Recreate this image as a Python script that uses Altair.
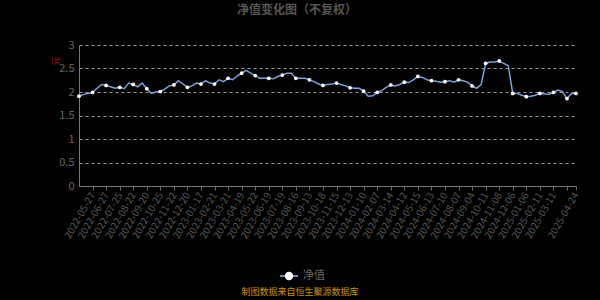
import altair as alt
import pandas as pd

FONT = "Noto Sans CJK SC"

dates_2022 = ["2022-04-26", "2022-05-09", "2022-05-18", "2022-05-27", "2022-06-08", "2022-06-17",
              "2022-06-27", "2022-07-06", "2022-07-15", "2022-07-25", "2022-08-03", "2022-08-12",
              "2022-08-22", "2022-08-31", "2022-09-09", "2022-09-20", "2022-09-29", "2022-10-14",
              "2022-10-25", "2022-11-03", "2022-11-14", "2022-11-22", "2022-12-01", "2022-12-12",
              "2022-12-20", "2022-12-29"]
nav_2022 = [1.91, 1.95, 1.97, 1.99, 2.08, 2.16, 2.14, 2.11, 2.08, 2.10, 2.07, 2.19, 2.16,
            2.11, 2.19, 2.07, 1.97, 2.00, 2.01, 2.06, 2.13, 2.15, 2.24, 2.17, 2.10, 2.13]

dates_2023 = ["2023-01-09", "2023-01-17", "2023-02-03", "2023-02-13", "2023-02-21", "2023-03-02",
              "2023-03-13", "2023-03-21", "2023-03-30", "2023-04-11", "2023-04-19", "2023-05-04",
              "2023-05-12", "2023-05-22", "2023-05-31", "2023-06-09", "2023-06-19", "2023-06-29",
              "2023-07-10", "2023-07-19", "2023-07-28", "2023-08-07", "2023-08-16", "2023-08-25",
              "2023-09-05", "2023-09-13", "2023-09-22", "2023-10-10", "2023-10-18", "2023-10-27",
              "2023-11-07", "2023-11-15", "2023-11-24", "2023-12-05", "2023-12-13", "2023-12-22"]
nav_2023 = [2.19, 2.17, 2.24, 2.19, 2.17, 2.26, 2.22, 2.29, 2.26, 2.34, 2.40, 2.46, 2.40,
            2.35, 2.29, 2.29, 2.29, 2.28, 2.33, 2.36, 2.40, 2.40, 2.29, 2.29, 2.29, 2.26,
            2.22, 2.17, 2.14, 2.16, 2.17, 2.19, 2.16, 2.13, 2.09, 2.08]

dates_2024 = ["2024-01-02", "2024-01-10", "2024-01-19", "2024-01-30", "2024-02-07", "2024-02-27",
              "2024-03-06", "2024-03-14", "2024-03-25", "2024-04-03", "2024-04-12", "2024-04-23",
              "2024-05-06", "2024-05-15", "2024-05-24", "2024-06-04", "2024-06-13", "2024-06-24",
              "2024-07-02", "2024-07-10", "2024-07-19", "2024-07-30", "2024-08-07", "2024-08-16",
              "2024-08-27", "2024-09-04", "2024-09-13", "2024-09-27", "2024-10-11", "2024-10-22",
              "2024-10-31", "2024-11-08", "2024-11-19", "2024-11-28", "2024-12-06", "2024-12-17",
              "2024-12-26"]
nav_2024 = [2.08, 2.02, 1.91, 1.92, 1.99, 2.03, 2.10, 2.15, 2.13, 2.16, 2.21, 2.20, 2.26,
            2.33, 2.31, 2.26, 2.24, 2.23, 2.21, 2.22, 2.24, 2.21, 2.26, 2.24, 2.21, 2.13,
            2.08, 2.16, 2.61, 2.64, 2.64, 2.66, 2.61, 2.56, 1.97, 1.97, 1.93]

dates_2025 = ["2025-01-06", "2025-01-15", "2025-01-24", "2025-02-11", "2025-02-20", "2025-03-03",
              "2025-03-11", "2025-03-20", "2025-03-31", "2025-04-09", "2025-04-17", "2025-04-24"]
nav_2025 = [1.90, 1.91, 1.93, 1.97, 1.96, 1.95, 1.99, 2.04, 2.01, 1.86, 1.97, 1.97]

tick_dates = ["2022-04-26", "2022-05-27", "2022-06-27", "2022-07-25", "2022-08-22", "2022-09-20",
              "2022-10-25", "2022-11-22", "2022-12-20", "2023-01-17", "2023-02-21", "2023-03-21",
              "2023-04-19", "2023-05-22", "2023-06-19", "2023-07-19", "2023-08-16", "2023-09-13",
              "2023-10-18", "2023-11-15", "2023-12-13", "2024-01-10", "2024-02-07", "2024-03-14",
              "2024-04-12", "2024-05-15", "2024-06-13", "2024-07-10", "2024-08-07", "2024-09-04",
              "2024-10-11", "2024-11-08", "2024-12-06", "2025-01-06", "2025-02-11", "2025-03-11",
              "2025-04-09", "2025-04-24"]
hidden_label = "2025-04-09"
y_ticks = [0, 0.5, 1, 1.5, 2, 2.5, 3]

title_text = "净值变化图（不复权）"
legend_text = "净值"
unit_text = "元"
source_text = "制图数据来自恒生聚源数据库"

dates = dates_2022 + dates_2023 + dates_2024 + dates_2025
navs = nav_2022 + nav_2023 + nav_2024 + nav_2025
assert len(dates) == len(navs)
df = pd.DataFrame({"date": dates, "nav": navs})

W, H = 497, 141
LINE_COLOR = "#7aa2d8"

x_enc = alt.X(
    "date:O",
    scale=alt.Scale(type="point", padding=0, domain=dates),
    axis=alt.Axis(
        values=tick_dates,
        labelExpr=f"datum.value == '{hidden_label}' ? '' : datum.value",
        labelAngle=-60, labelAlign="right", labelBaseline="middle",
        labelColor="#555555", labelFontSize=10, labelFont=FONT, labelPadding=3,
        tickColor="#666666", tickSize=4, domainColor="#777777",
        grid=False, title=None, labelOverlap=False, labelBound=False,
    ),
)
y_enc = alt.Y(
    "nav:Q",
    scale=alt.Scale(domain=[0, 3], nice=False),
    axis=alt.Axis(
        values=y_ticks, format="~g", grid=True, gridDash=[3, 3], gridColor="#9a9a9a",
        gridWidth=1, labelColor="#666666", labelFontSize=11, labelFont=FONT,
        domainColor="#777777", ticks=False, labelPadding=5, title=None,
    ),
)

base = alt.Chart(df)
line = base.mark_line(color=LINE_COLOR, strokeWidth=1.5).encode(x=x_enc, y=y_enc)
pts = base.transform_filter(
    alt.FieldOneOfPredicate(field="date", oneOf=tick_dates)
).mark_point(filled=True, color="white", size=14, opacity=1).encode(x=x_enc, y=y_enc)

one = pd.DataFrame({"t": [0]})


def text_layer(txt, x, y, **kw):
    return alt.Chart(one).mark_text(text=txt, font=FONT, **kw).encode(
        x=alt.value(x), y=alt.value(y))


title = text_layer(title_text, 218, -35, fontSize=12, fontWeight="bold", color="#555555")
unit = text_layer(unit_text, -23, 16, fontSize=9, color="#a01010", angle=270)
source = text_layer(source_text, 221, 247, fontSize=9, color="#c8900a")
leg_text = text_layer(legend_text, 224, 231, fontSize=11, color="#666666", align="left")
leg_line = alt.Chart(one).mark_rule(color="#9fbbe0", strokeWidth=1.5).encode(
    x=alt.value(201), x2=alt.value(219), y=alt.value(231))
leg_dot = alt.Chart(one).mark_point(filled=True, color="white", size=70, opacity=1).encode(
    x=alt.value(210), y=alt.value(231))

chart = alt.layer(line, pts, title, unit, source, leg_line, leg_dot, leg_text).properties(
    width=W, height=H,
    background="black",
    padding={"left": 79, "top": 45, "right": 24, "bottom": 114},
    autosize=alt.AutoSizeParams(type="none"),
).configure_view(stroke=None)

chart.save("out.html", embed_options={"renderer": "svg", "actions": False})
